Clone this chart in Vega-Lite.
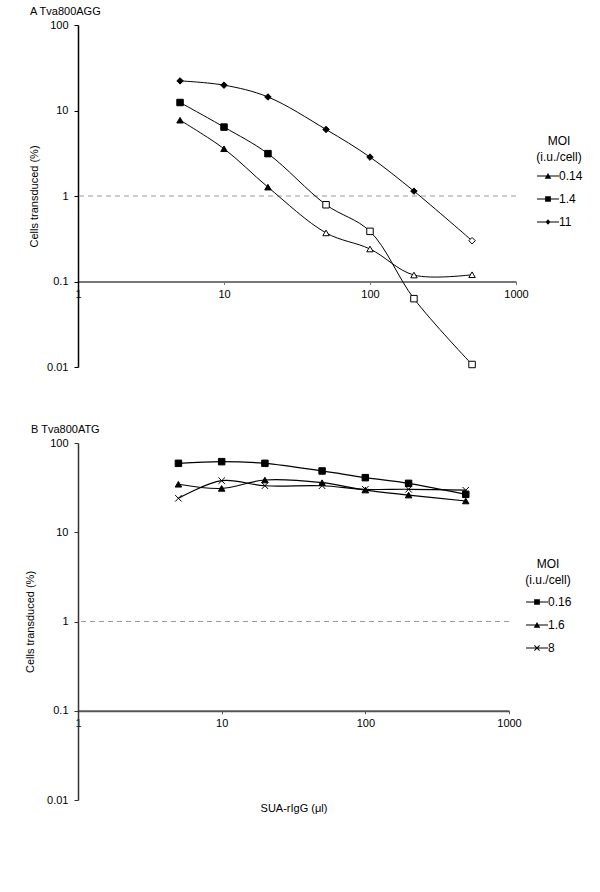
{
  "$schema": "https://vega.github.io/schema/vega-lite/v6.json",
  "padding": {"left": 24, "top": 6, "right": 5, "bottom": 5},
  "config": {
    "font": "Liberation Sans",
    "view": {"stroke": null},
    "axis": {"grid": false, "labelColor": "black", "titleColor": "black", "labelFontSize": 11, "titleFontSize": 11, "titleFontWeight": "normal"},
    "legend": {"labelFontSize": 12, "titleFontSize": 12, "titleFontWeight": "normal", "labelColor": "black", "titleColor": "black"}
  },
  "datasets": {
    "a": [
      {"moi": "0.14", "dose": 5, "pct": 7.7},
      {"moi": "0.14", "dose": 10, "pct": 3.57},
      {"moi": "0.14", "dose": 20, "pct": 1.27},
      {"moi": "0.14", "dose": 50, "pct": 0.37},
      {"moi": "0.14", "dose": 100, "pct": 0.24},
      {"moi": "0.14", "dose": 200, "pct": 0.119},
      {"moi": "0.14", "dose": 500, "pct": 0.12},
      {"moi": "1.4", "dose": 5, "pct": 12.4},
      {"moi": "1.4", "dose": 10, "pct": 6.4},
      {"moi": "1.4", "dose": 20, "pct": 3.13},
      {"moi": "1.4", "dose": 50, "pct": 0.79},
      {"moi": "1.4", "dose": 100, "pct": 0.386},
      {"moi": "1.4", "dose": 200, "pct": 0.063},
      {"moi": "1.4", "dose": 500, "pct": 0.0107},
      {"moi": "11", "dose": 5, "pct": 22.2},
      {"moi": "11", "dose": 10, "pct": 19.8},
      {"moi": "11", "dose": 20, "pct": 14.4},
      {"moi": "11", "dose": 50, "pct": 6.0},
      {"moi": "11", "dose": 100, "pct": 2.85},
      {"moi": "11", "dose": 200, "pct": 1.14},
      {"moi": "11", "dose": 500, "pct": 0.3}
    ],
    "b": [
      {"moi": "0.16", "dose": 5, "pct": 59.2},
      {"moi": "0.16", "dose": 10, "pct": 61.8},
      {"moi": "0.16", "dose": 20, "pct": 59.2},
      {"moi": "0.16", "dose": 50, "pct": 48.6},
      {"moi": "0.16", "dose": 100, "pct": 40.9},
      {"moi": "0.16", "dose": 200, "pct": 35.3},
      {"moi": "0.16", "dose": 500, "pct": 26.6},
      {"moi": "1.6", "dose": 5, "pct": 34.5},
      {"moi": "1.6", "dose": 10, "pct": 31.0},
      {"moi": "1.6", "dose": 20, "pct": 38.5},
      {"moi": "1.6", "dose": 50, "pct": 35.9},
      {"moi": "1.6", "dose": 100, "pct": 29.7},
      {"moi": "1.6", "dose": 200, "pct": 26.1},
      {"moi": "1.6", "dose": 500, "pct": 22.4},
      {"moi": "8", "dose": 5, "pct": 24.0},
      {"moi": "8", "dose": 10, "pct": 37.8},
      {"moi": "8", "dose": 20, "pct": 33.2},
      {"moi": "8", "dose": 50, "pct": 33.2},
      {"moi": "8", "dose": 100, "pct": 30.3},
      {"moi": "8", "dose": 200, "pct": 30.3},
      {"moi": "8", "dose": 500, "pct": 29.6}
    ],
    "ref": [{"level": 1}]
  },
  "spacing": 52,
  "resolve": {"scale": {"shape": "independent", "x": "independent", "y": "independent"}, "legend": {"shape": "independent"}},
  "vconcat": [
    {
      "title": {"text": "A Tva800AGG", "anchor": "start", "frame": "group", "fontSize": 11, "fontWeight": "normal", "dx": -48, "offset": 2},
      "width": 438,
      "height": 342,
      "resolve": {"scale": {"shape": "independent"}, "legend": {"shape": "independent"}},
      "layer": [
        {
          "data": {"name": "ref"},
          "mark": {"type": "rule", "color": "#999999", "strokeDash": [5, 4], "strokeWidth": 1},
          "encoding": {"y": {"field": "level", "type": "quantitative", "scale": {"type": "log", "domain": [0.01, 100]}}}
        },
        {
          "data": {"name": "a"},
          "mark": {"type": "line", "interpolate": "catmull-rom", "color": "black", "strokeWidth": 1},
          "encoding": {
            "x": {"field": "dose", "type": "quantitative", "scale": {"type": "log", "domain": [1, 1000]},
              "axis": {"values": [1, 10, 100, 1000], "format": "~g", "title": null, "offset": -85.5, "labelFlush": false, "domainColor": "#777777", "domainWidth": 2, "tickColor": "#777777", "tickSize": 3, "labelPadding": 4}},
            "y": {"field": "pct", "type": "quantitative", "scale": {"type": "log", "domain": [0.01, 100]},
              "axis": {"values": [0.01, 0.1, 1, 10, 100], "format": "~g", "title": "Cells transduced (%)", "titlePadding": 7, "domainColor": "black", "domainWidth": 1.5, "tickColor": "black", "tickSize": 4, "labelPadding": 6}},
            "detail": {"field": "moi"}
          }
        },
        {
          "data": {"name": "a"},
          "mark": {"type": "point", "filled": true, "size": 42, "stroke": "black", "strokeWidth": 1, "opacity": 1},
          "encoding": {
            "x": {"field": "dose", "type": "quantitative", "scale": {"type": "log", "domain": [1, 1000]}},
            "y": {"field": "pct", "type": "quantitative", "scale": {"type": "log", "domain": [0.01, 100]}},
            "fill": {"condition": {"test": "datum.pct < 1", "value": "white"}, "value": "black"},
            "shape": {"field": "moi", "type": "nominal", "legend": null,
              "scale": {"domain": ["0.14", "1.4", "11"], "range": ["triangle-up", "square", "diamond"]}}
          }
        },
        {
          "data": {"name": "a"},
          "mark": {"type": "point", "filled": true, "size": 0, "color": "black", "opacity": 1},
          "encoding": {
            "x": {"field": "dose", "type": "quantitative", "scale": {"type": "log", "domain": [1, 1000]}},
            "y": {"field": "pct", "type": "quantitative", "scale": {"type": "log", "domain": [0.01, 100]}},
            "shape": {
              "field": "moi", "type": "nominal",
              "scale": {"domain": ["0.14", "1.4", "11"], "range": [
                "M-1,-0.05H1V0.05H-1ZM-0.3,0.26L0,-0.28L0.3,0.26Z",
                "M-1,-0.05H1V0.05H-1ZM-0.26,-0.26H0.26V0.26H-0.26Z",
                "M-1,-0.05H1V0.05H-1ZM0,-0.26L0.22,0L0,0.26L-0.22,0Z"]},
              "legend": {
                "title": ["MOI", "(i.u./cell)"], "orient": "none", "legendX": 458, "legendY": 111,
                "titleAnchor": "middle", "titleAlign": "center", "titleLineHeight": 16, "titlePadding": 0,
                "symbolSize": 484, "rowPadding": 5, "labelOffset": -1,
                "symbolFillColor": "black", "symbolOpacity": 1
              }
            }
          }
        }
      ]
    },
    {
      "title": {"text": "B Tva800ATG", "anchor": "start", "frame": "group", "fontSize": 11, "fontWeight": "normal", "dx": -47, "offset": 2},
      "width": 431,
      "height": 357,
      "resolve": {"scale": {"shape": "independent"}, "legend": {"shape": "independent"}},
      "layer": [
        {
          "data": {"name": "ref"},
          "mark": {"type": "rule", "color": "#999999", "strokeDash": [5, 4], "strokeWidth": 1},
          "encoding": {"y": {"field": "level", "type": "quantitative", "scale": {"type": "log", "domain": [0.01, 100]}}}
        },
        {
          "data": {"name": "b"},
          "mark": {"type": "line", "interpolate": "catmull-rom", "color": "black", "strokeWidth": 1.2},
          "encoding": {
            "x": {"field": "dose", "type": "quantitative", "scale": {"type": "log", "domain": [1, 1000]},
              "axis": {"values": [1, 10, 100, 1000], "format": "~g", "title": "SUA-rIgG (μl)", "titlePadding": 74, "offset": -89.25, "labelFlush": false, "domainColor": "#555555", "domainWidth": 2, "tickColor": "#555555", "tickSize": 3, "labelPadding": 4}},
            "y": {"field": "pct", "type": "quantitative", "scale": {"type": "log", "domain": [0.01, 100]},
              "axis": {"values": [0.01, 0.1, 1, 10, 100], "format": "~g", "title": "Cells transduced (%)", "titlePadding": 11, "domainColor": "#333333", "domainWidth": 1.5, "tickColor": "#333333", "tickSize": 4, "labelPadding": 6}},
            "detail": {"field": "moi"}
          }
        },
        {
          "data": {"name": "b"},
          "mark": {"type": "point", "filled": true, "size": 42, "stroke": "black", "strokeWidth": 1, "opacity": 1},
          "encoding": {
            "x": {"field": "dose", "type": "quantitative", "scale": {"type": "log", "domain": [1, 1000]}},
            "y": {"field": "pct", "type": "quantitative", "scale": {"type": "log", "domain": [0.01, 100]}},
            "fill": {"condition": {"test": "datum.pct < 1", "value": "white"}, "value": "black"},
            "shape": {"field": "moi", "type": "nominal", "legend": null,
              "scale": {"domain": ["0.16", "1.6", "8"], "range": ["square", "triangle-up", "M-1,-1L1,1M-1,1L1,-1"]}}
          }
        },
        {
          "data": {"name": "b"},
          "mark": {"type": "point", "filled": true, "size": 0, "color": "black", "opacity": 1},
          "encoding": {
            "x": {"field": "dose", "type": "quantitative", "scale": {"type": "log", "domain": [1, 1000]}},
            "y": {"field": "pct", "type": "quantitative", "scale": {"type": "log", "domain": [0.01, 100]}},
            "shape": {
              "field": "moi", "type": "nominal",
              "scale": {"domain": ["0.16", "1.6", "8"], "range": [
                "M-1,-0.05H1V0.05H-1ZM-0.26,-0.26H0.26V0.26H-0.26Z",
                "M-1,-0.05H1V0.05H-1ZM-0.3,0.26L0,-0.28L0.3,0.26Z",
                "M-1,-0.05H1V0.05H-1ZM-0.27,-0.21L-0.21,-0.27L0.27,0.21L0.21,0.27ZM-0.27,0.21L0.21,-0.27L0.27,-0.21L-0.21,0.27Z"]},
              "legend": {
                "title": ["MOI", "(i.u./cell)"], "orient": "none", "legendX": 447, "legendY": 116,
                "titleAnchor": "middle", "titleAlign": "center", "titleLineHeight": 16, "titlePadding": 3,
                "symbolSize": 484, "rowPadding": 5, "labelOffset": -1,
                "symbolFillColor": "black", "symbolOpacity": 1
              }
            }
          }
        }
      ]
    }
  ]
}
